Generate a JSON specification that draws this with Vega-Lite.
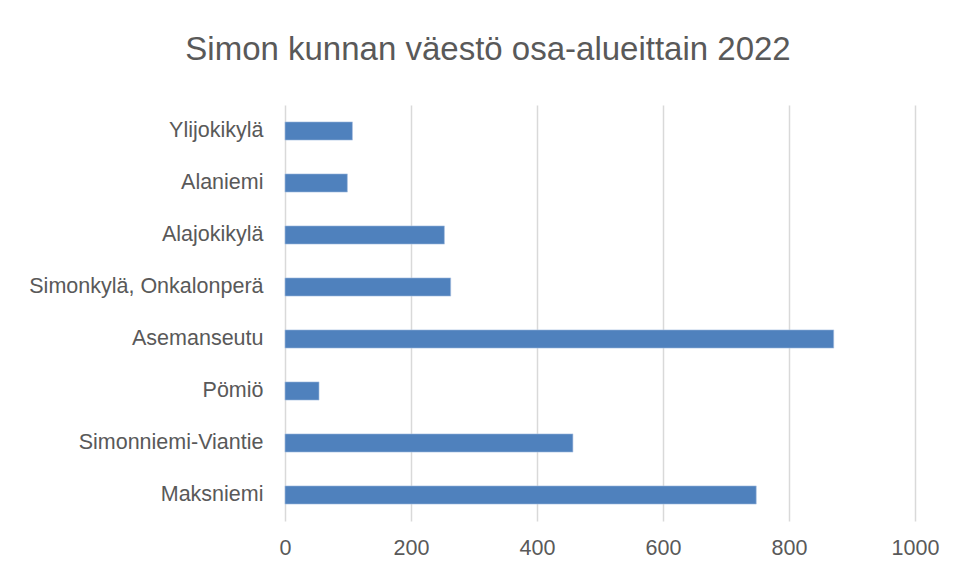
{
  "$schema": "https://vega.github.io/schema/vega-lite/v6.json",
  "width": 630,
  "height": 416,
  "autosize": {"type": "none"},
  "padding": {"left": 285, "top": 105, "right": 40, "bottom": 57},
  "background": "white",
  "title": {
    "text": "Simon kunnan väestö osa-alueittain 2022",
    "font": "Liberation Sans",
    "fontSize": 33,
    "fontWeight": "normal",
    "color": "#595959",
    "anchor": "middle",
    "dx": -112,
    "offset": 38
  },
  "data": {
    "values": [
      {"alue": "Ylijokikylä", "vaesto": 107},
      {"alue": "Alaniemi", "vaesto": 99},
      {"alue": "Alajokikylä", "vaesto": 253},
      {"alue": "Simonkylä, Onkalonperä", "vaesto": 263},
      {"alue": "Asemanseutu", "vaesto": 871},
      {"alue": "Pömiö", "vaesto": 54},
      {"alue": "Simonniemi-Viantie", "vaesto": 457},
      {"alue": "Maksniemi", "vaesto": 748}
    ]
  },
  "mark": {"type": "bar", "color": "#4f81bd", "stroke": "#a8c0e0", "strokeWidth": 0.6},
  "encoding": {
    "y": {
      "field": "alue",
      "type": "nominal",
      "sort": null,
      "scale": {"paddingInner": 0.65, "paddingOuter": 0.325},
      "axis": {
        "title": null,
        "domain": false,
        "ticks": false,
        "labelFont": "Liberation Sans",
        "labelFontSize": 21.5,
        "labelColor": "#595959",
        "labelPadding": 22,
        "labelLimit": 0,
        "grid": false
      }
    },
    "x": {
      "field": "vaesto",
      "type": "quantitative",
      "scale": {"domain": [0, 1000]},
      "axis": {
        "title": null,
        "domain": false,
        "ticks": false,
        "values": [0, 200, 400, 600, 800, 1000],
        "format": "d",
        "labelFont": "Liberation Sans",
        "labelFontSize": 21.5,
        "labelColor": "#595959",
        "labelPadding": 16,
        "gridColor": "#d9d9d9",
        "gridWidth": 1.5,
        "labelFlush": false
      }
    }
  },
  "config": {"view": {"stroke": null}}
}
